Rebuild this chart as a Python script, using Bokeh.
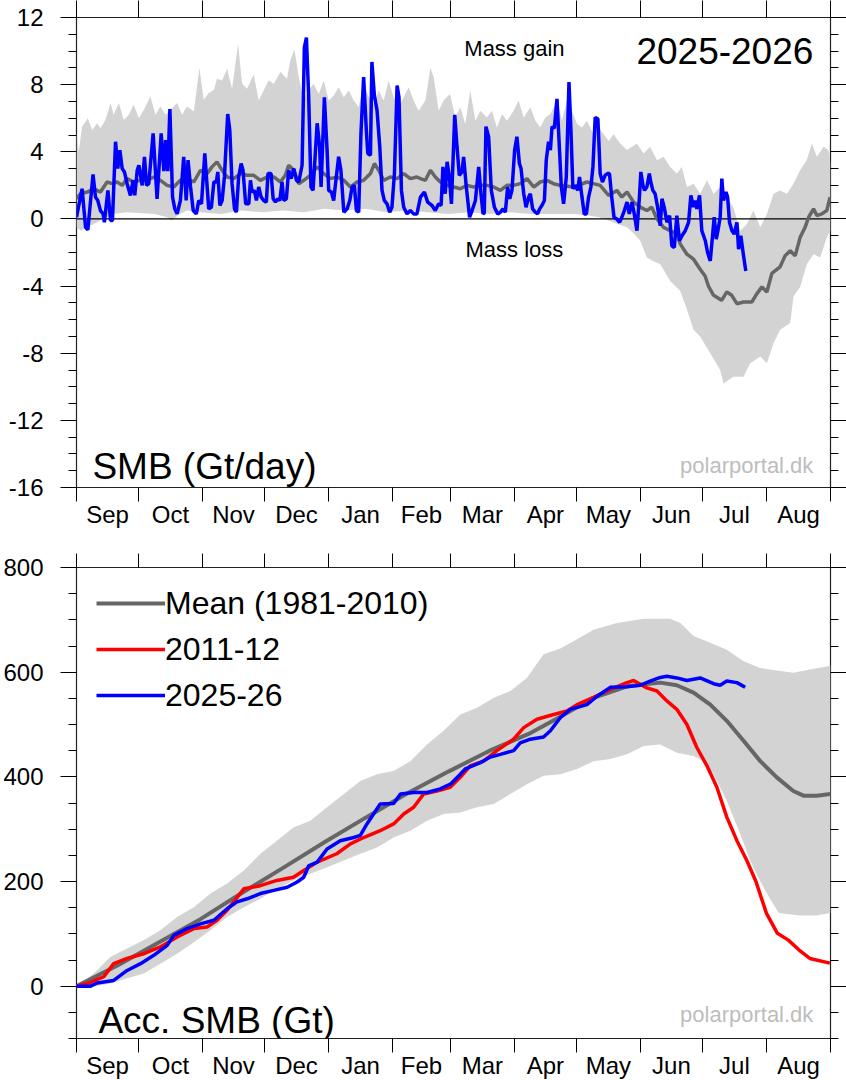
from bokeh.plotting import figure
from bokeh.models import Range1d, FixedTicker, LinearAxis, Span, Label, Legend, LegendItem
from bokeh.layouts import column
from bokeh.embed import file_html
from bokeh.resources import INLINE

FONT = "Liberation Sans"

# ---------------- categories ----------------
MONTHS = ["Sep", "Oct", "Nov", "Dec", "Jan", "Feb", "Mar", "Apr", "May", "Jun", "Jul", "Aug"]
MONTH_START = [0, 30, 61, 91, 122, 153, 181, 212, 242, 273, 303, 334, 365]

# ---------------- top panel: daily SMB (Gt/day) ----------------
band_up_day = [0, 1.1, 2.7, 5.5, 7.6, 10, 11.6, 14, 16.5, 18, 20.5, 22.9, 25.3, 27.7, 30.2, 32.6, 35.8, 38.2, 40.6, 43.1,
               45.5, 48.7, 51.1, 53.5, 56.8, 59.5, 61.6, 64, 66.5, 68, 70.5, 72.9, 75.3, 78.2, 80.2, 82.6, 85.8, 88.2, 90.6, 93,
               95.5, 98.7, 101.9, 103.5, 105.5, 107.6, 110, 112.4, 114.8, 117.3, 119.7, 122.1, 124.5, 126.9, 129.4, 131.8, 134.2, 136.6, 139, 141.5,
               143.9, 146.3, 148.7, 151.1, 153.5, 156, 158.4, 160.8, 163.2, 165.6,
               168.9, 171.3, 172.9, 175.3, 177.7, 180.8, 183.4, 185.8, 188.2, 190.6, 193.1, 195.5, 198.7, 201.1, 203.5, 206, 208.4, 211.6, 214, 216.5,
               219.7, 222.1, 224.5, 227, 229.4, 232.6, 235, 237.4, 239.8, 242.3, 244.7, 247.1, 250.3, 252.7, 255.2, 257.6, 260,
               263.2, 266.5, 271.3, 274.5, 277.7, 281, 284.2, 287.4, 290.6, 293, 295.5, 298.7, 301.9, 305.2, 308.4, 311.6, 314.8, 318, 321.3, 324.5,
               327.7, 331, 334.2, 337.4, 340.6, 343.9, 347.1, 350.3, 353.5, 356, 358.4, 361.6, 364, 365]
band_up_val = [5.2, 4.0, 5.5, 6.0, 5.3, 5.7, 5.4, 5.9, 6.9, 6.2, 6.9, 5.9, 6.2, 6.8, 6.0, 6.5, 7.3, 6.2, 6.7, 6.2,
               6.5, 6.9, 6.2, 6.7, 6.4, 9.0, 7.1, 7.5, 7.7, 8.35, 8.25, 8.95, 7.75, 10.4, 8.05, 7.75, 8.6, 7.05, 7.65, 8.25,
               8.05, 8.75, 8.35, 9.45, 10.1, 8.45, 7.05, 7.65, 8.05, 7.45, 8.25, 7.05, 7.35, 7.85, 7.25, 7.65, 7.05, 6.65, 8.05, 7.25,
               6.85, 7.65, 7.05, 8.25, 7.25, 6.65, 7.25, 7.85, 7.05, 6.45,
               7.05, 9.0, 8.45, 6.45, 7.05, 7.45, 6.05, 6.65, 5.65, 7.65, 5.85, 6.45, 6.05, 6.45, 5.45, 6.25, 5.85, 6.45, 7.05, 6.05,
               6.65, 5.85, 5.45, 6.05, 6.25, 7.05, 5.85, 7.05, 6.45, 5.65, 5.45, 5.85, 5.05, 5.45, 5.05, 4.65, 5.05,
               4.5, 4.1, 4.5, 3.9, 4.3, 3.5, 3.7, 3.1, 2.7, 3.1, 1.9, 2.1, 1.5, 2.3, 1.5, 1.9, 1.3, 0.7, -0.7, -0.3,
               0.5, -0.5, 0.3, 1.5, 1.7, 1.5, 2.1, 2.9, 3.5, 4.5, 3.7, 4.3, 4.1, 3.3]

band_lo_day = [0, 2, 5.2, 8.4, 11.6, 14.8, 18, 24, 30, 38, 43.9, 46, 50, 53.5, 60, 70, 80, 90, 100, 110,
               120, 130, 140, 150, 160, 170, 180, 190, 200, 210, 220, 230, 241, 248, 253, 257.6, 262, 266.5, 270, 272.9,
               276.1, 279, 282.6, 287.4, 292.3, 295.5, 298.7, 301.9, 306.8, 311.6, 313.2, 318, 322.9, 326.1, 331, 334.2, 337.4, 340.6, 345.5, 347.1,
               350.3, 353.5, 356.8, 360, 363.2, 365]
band_lo_val = [-0.5, -0.7, -0.5, -0.3, -0.1, 0.1, 0.3, 0.4, 0.35, 0.3, 0.1, -0.1, 0.3, 0.5, 0.4, 0.3, 0.5, 0.4, 0.5, 0.4,
               0.6, 0.5, 0.6, 0.4, 0.5, 0.4, 0.3, 0.4, 0.3, 0.4, 0.3, 0.3, 0.3, 0.2, 0.1, -0.1, -0.3, -0.5, -0.9, -1.3,
               -2.3, -2.5, -2.7, -3.7, -4.3, -5.4, -6.6, -7.0, -8.0, -9.0, -9.8, -9.4, -9.4, -8.6, -8.2, -8.6, -7.4, -6.6, -6.2, -4.6,
               -4.05, -2.7, -2.1, -2.3, -1.1, -0.7]

mean_day = [0, 1.9, 5.2, 8.4, 11.6, 14.8, 17.3, 19.7, 22.1, 24.5, 27.7, 31, 34.2, 37.4, 40.6, 43.9, 47.1, 50.3, 53.5, 56.8,
            60, 63.2, 65.6, 68, 70.5, 72.9, 76.1, 79.4, 82.6, 85.8, 89, 92.3, 95.5, 98.7, 101.1, 102.7, 105.2, 107.6, 110, 113.2,
            116.5, 119.7, 122.9, 126.1, 129.4, 132.6, 135.8, 139, 142.3, 144.2, 146.3, 148.7, 151.9, 155.2, 158.4, 161.6, 164.8,
            166.5, 168.9, 171.3, 173.7, 176.1, 179.4, 182.6, 185.8, 189, 192.3, 195.5, 198.7, 201.9, 205.2, 208.4, 211.6, 214.8, 218.1, 221.3, 224.5,
            227.7, 230.9,
            234.2, 240.6, 247.1, 253.5, 257.6, 261.6, 264, 266.5, 269.7, 272.9, 276.1, 278.5, 281, 284.2, 287.4, 290.6, 292.3, 295.5, 298.7, 301.9,
            304.3, 305.9, 308.4, 312.3, 314.8, 317.2, 319.7, 322.9, 326.9, 329.4, 331.8, 334.2, 336.6, 340.6, 343, 345.5, 347.9, 350.3, 352.7, 354.4,
            356.8, 358.4, 360.8, 363.2, 364.8]
mean_val = [1.2, 1.5, 1.6, 1.8, 1.6, 2.2, 2.1, 2.2, 2.0, 2.4, 2.2, 2.3, 2.3, 2.5, 2.3, 2.0, 1.9, 2.3, 2.4, 2.2,
            2.9, 2.7, 3.1, 3.4, 2.9, 2.5, 2.4, 2.7, 2.6, 2.6, 2.3, 2.5, 2.5, 2.2, 2.6, 3.2, 2.9, 2.1, 2.3, 2.6,
            3.1, 2.7, 2.4, 2.5, 2.3, 1.9, 2.2, 2.3, 2.7, 3.3, 2.9, 2.3, 2.5, 2.4, 2.7, 2.4, 2.5,
            2.4, 2.3, 2.9, 2.5, 2.2, 2.0, 1.9, 1.8, 2.0, 1.9, 2.0, 2.0, 1.9, 1.7, 2.0, 2.0, 2.1, 2.4, 1.9, 2.2,
            2.3, 2.1,
            2.0, 1.9, 2.2, 2.0, 1.4, 1.7, 1.3, 1.6, 1.0, 0.7, 0.5, 0.7, 0.0, -0.5, -0.7, -0.9, -1.5, -2.1, -2.4, -3.0,
            -3.4, -4.0, -4.55, -4.85, -4.35, -4.55, -5.05, -4.95, -4.95, -4.45, -4.05, -4.35, -3.25, -2.85, -2.2, -1.9, -2.2, -1.1, -0.5, 0.1,
            0.6, 0.2, 0.3, 0.5, 1.3]

cur_day = [0, 2.7, 4.4, 5.5, 8, 9.2, 10.3, 11.6, 12.9, 13.5, 15.2, 16.5, 17.4, 18.9, 20, 21, 22.1, 23.2, 24.5, 26.1,
           27.4, 28.2, 29.4, 30.2, 31.8, 32.9, 33.9, 35, 37.1, 39, 41, 42.3, 43.2, 44.2, 45.2, 46.5, 47.6, 48.7, 50.3, 51.9,
           53.1, 54, 55.2, 56.5, 58, 59.2, 60.5, 62.1, 64, 65.3, 66.5, 67.7, 68.4, 69.4, 70.5, 71.6, 73.2, 74.2, 75.3, 76.5,
           77.4, 78.5, 79.7, 80.6, 81.9, 83.4, 84.2, 85, 86.1, 87.1, 88.2, 89.4, 90.6, 91.9, 92.7, 94.2, 95.2, 96.3, 97.4, 98.4,
           99.5, 100.3, 101.6, 102.7, 103.9, 105.2, 106.5, 107.6, 109.2, 110.3, 111.3, 112.4, 113.5, 114.5, 116.5, 117.7, 118.4, 120, 121.3, 122.1,
           123.4, 124.5, 125.3, 126.9, 128, 129.4, 131, 132.3, 133.4, 134.5, 135.5, 136.6, 137.7, 139, 140.3, 141, 142.3, 143, 144.2, 145.5,
           146.8, 147.9, 149, 150.3, 151.6, 152.7, 153.9, 155.2, 156.1, 157.3, 158.4, 160, 161.6, 163.2, 164.8, 166.5,
           168.4, 170, 172.1, 173.7, 175.3, 176.5, 177.4, 178.5, 179.4, 180.5, 181.5, 183.1, 184.2, 185.3, 186.6, 187.4, 188.7, 190.3, 191.5, 193.1,
           194.7, 195.8, 196.8, 197.4, 198.2, 199.5, 200.8, 202.3, 203.9, 205.2, 206.5, 207.6, 208.7, 209.7, 210.8, 212.1, 213.2, 214.4, 215.2, 216.5,
           217.6, 218.9, 219.7, 220.8, 222.1, 223.2, 224.2, 225.3, 226.5, 227.4, 228.5, 229.4, 230.2, 231.3, 232.6, 233.9, 234.7, 235.8, 237.1, 238.4,
           239.4, 240.3, 241.5, 242.6, 243.5, 244.7, 245.8, 246.8, 247.9, 249, 250, 251.1, 252.4, 253.5, 254.6, 255.9, 257, 258, 259.1, 260.2,
           261.5, 262.9, 264, 265.2, 266.5, 267.6, 268.9, 270, 271.3, 272.5, 273.2, 274.2, 275, 276.1, 277.3, 278, 279, 280.1, 281.3, 282.6,
           283.4, 284.5, 285.8, 287.1, 288.2, 289.4, 290.6, 291.9, 293.1, 294.7, 296.3, 297.4, 298.7, 299.5, 300.3, 301.6, 302.7, 304.4, 305.5, 306.8,
           307.9, 308.7, 309.7, 310.5, 311.6, 312.4, 313.2, 314.4, 315.2, 316.1, 317.3, 318.4, 319.7, 320.5, 321.6, 322.9, 324]
cur_val = [0.1, 1.8, -0.5, -0.65, 2.65, 1.3, 1.1, 0.5, 0.3, -0.2, 1.7, -0.1, -0.1, 4.6, 3.0, 4.1, 3.0, 2.8, 2.1, 1.4,
           2.3, 1.4, 2.9, 3.2, 2.0, 3.7, 2.0, 2.1, 5.1, 1.2, 5.1, 2.85, 4.7, 2.85, 6.55, 1.3, 0.6, 0.3, 1.1, 3.7,
           1.1, 3.5, 1.9, 0.5, 0.3, 1.1, 0.9, 3.9, 0.6, 0.7, 2.2, 2.2, 2.8, 0.8, 1.1, 2.5, 6.25, 5.3, 2.1, 0.6,
           0.4, 2.5, 3.3, 2.9, 0.9, 0.9, 2.3, 1.6, 1.7, 1.1, 1.9, 1.3, 1.1, 1.0, 2.7, 2.7, 1.2, 1.0, 1.2, 1.1,
           2.2, 1.1, 1.2, 2.9, 2.4, 3.0, 2.3, 2.2, 3.2, 10.2, 10.8, 7.25, 1.9, 1.7, 5.7, 4.3, 1.9, 7.25, 4.1, 1.7,
           1.6, 1.1, 2.0, 3.7, 2.9, 0.4, 0.6, 1.1, 1.9, 2.0, 0.5, 0.4, 5.1, 8.45, 5.3, 3.9, 3.8, 9.35, 7.35, 6.45,
           4.3, 1.7, 1.1, 0.9, 0.4, 0.7, 2.7, 7.95, 7.25, 1.7, 0.7, 0.3, 0.5, 0.3, 0.3, 1.3,
           1.6, 1.0, 0.8, 0.5, 0.9, 0.8, 3.1, 1.5, 3.4, 2.5, 0.9, 6.2, 4.3, 2.6, 2.8, 3.7, 1.9, 0.1, 0.5, 1.1,
           3.1, 1.5, 0.3, 0.35, 5.5, 4.9, 1.7, 0.7, 0.3, 0.4, 0.6, 0.4, 1.9, 1.2, 1.7, 4.1, 4.9, 3.3, 3.0, 1.5,
           0.7, 1.3, 1.5, 0.6, 0.4, 0.3, 0.6, 0.8, 1.1, 3.5, 4.6, 4.1, 5.5, 5.4, 7.15, 3.9, 1.9, 0.9, 2.5, 8.15,
           5.1, 1.8, 2.0, 1.7, 2.5, 1.3, 0.3, 0.3, 1.3, 1.9, 3.1, 6.05, 5.95, 2.7, 2.2, 2.6, 2.7, 2.7, 1.3, 0.1,
           0.0, -0.2, 0.1, 0.5, 1.0, 0.3, 1.0, 0.3, -0.7, 1.3, 2.8, 2.0, 1.7, 1.9, 2.7, 2.2, 1.7, 1.5, 0.7, -0.4,
           1.2, 0.7, -0.2, 0.2, -1.6, -1.7, 0.2, -1.3, -1.0, -0.7, -0.2, 1.4, 0.7, 1.1, 0.6, 1.4, -0.7, -1.3, -2.0, -2.5,
           -1.0, 0.1, -1.2, -0.7, 0.1, 2.4, 1.1, 1.6, 1.3, -0.2, -0.7, -0.9, -0.2, -1.8, -1.0, -2.2, -3.1]

# ---------------- bottom panel: accumulated SMB (Gt) ----------------
acc_up_day = [0, 8.4, 16.5, 24.5, 32.6, 40.6, 48.7, 56.8, 64.8, 72.9, 81, 89, 97, 105, 113.2, 121.3, 129.4, 137.4, 145.5, 153.5,
              161.6, 169.7, 177.7, 185.8, 193.9, 202, 210, 218, 226.1, 234.2, 240.6, 250.3, 261.6, 274.5, 287.4, 292.3, 298.7, 306.8, 314.8, 322.9,
              331, 339, 347, 355, 363.2, 365]
acc_up_val = [0, 24, 56, 72, 88, 107, 132, 151, 177, 196, 221, 253, 278, 303, 316, 342, 367, 392, 405, 411,
              430, 462, 488, 519, 532, 551, 564, 589, 634, 645, 659, 681, 694, 702, 702, 694, 669, 656, 643, 621,
              608, 603, 599, 605, 611, 613]
acc_lo_day = [0, 8.4, 16.5, 24.5, 32.6, 40.6, 48.7, 56.8, 64.8, 72.9, 81, 89, 97, 105, 113.2, 121.3, 129.4, 137.4, 145.5, 153.5,
              161.6, 169.7, 177.7, 185.8, 193.9, 202, 210, 218, 226.1, 234.2, 242.3, 250.3, 258.4, 266.5, 274.5, 282.6, 290.6, 298.7, 303.5, 308.4,
              314.8, 321.3, 326.1, 331, 336, 340, 350, 358, 365]
acc_lo_val = [0, 0, 5, 15, 24, 43, 62, 84, 107, 132, 151, 167, 186, 202, 215, 227, 240, 253, 265, 284,
              297, 316, 329, 332, 342, 348, 367, 386, 402, 405, 415, 430, 434, 443, 459, 462, 446, 440, 430, 405,
              354, 291, 240, 200, 165, 140, 135, 135, 140]

acc_mean_day = [0, 20, 40, 60, 80, 100, 120, 140, 160, 180, 200, 220, 234.2, 250.3, 266.5, 282.6, 290.6, 298.7, 306.8, 314.8,
                322.9, 331, 339, 347, 351.9, 358.4, 364.8]
acc_mean_val = [0, 40, 84, 128, 178, 226, 275, 322, 368, 410, 450, 484, 515, 551, 573, 580, 575, 561, 538, 507,
                469, 430, 399, 373, 364, 364, 367]

acc_2011_day = [0, 5.2, 13.2, 18, 24.5, 32.6, 40.6, 48.7, 56.8, 63.2, 68, 72.9, 81, 89, 97, 105, 110, 116.5, 126, 132.6,
                139, 147, 153.5, 158.4, 163.2, 168, 174.5, 180.9, 185.8, 190.6, 197, 203.5, 211.6, 216.5, 222.9, 231, 237.4, 242.3, 250.3, 258.4,
                266.5, 269.7, 272.9, 276.1, 281, 285.8, 290.6, 295.5, 300.3, 305.2, 310, 314.8, 319.7, 324.5, 328.9, 334, 339.3, 344.6, 349.8, 355,
                364.7]
acc_2011_val = [0, 5, 18, 43, 53, 62, 75, 94, 110, 113, 126, 145, 186, 192, 202, 208, 221, 237, 253, 272,
                284, 297, 310, 329, 342, 367, 373, 380, 399, 421, 430, 450, 472, 494, 510, 519, 526, 538, 552, 567,
                580, 584, 577, 570, 564, 545, 529, 500, 456, 421, 380, 323, 278, 240, 200, 139, 101, 88, 69, 53,
                44]

acc_cur_day = [0, 6.8, 10, 18, 24.5, 31, 37.4, 43.9, 47.1, 53.5, 60, 66.5, 72.9, 77.7, 82.6, 89, 95.5, 102, 106.8, 110,
               112.4, 116.5, 121.3, 127.7, 134.2, 137.4, 140.6, 147, 153.5, 156.8, 163.2, 169.7, 176.1, 181, 185.8, 188.2, 195.5, 200.3, 205.2, 211.6,
               214.8, 219.7, 226.1, 229.4, 234.2, 239, 247.1, 252, 258.4, 266.5, 272.9, 277.7, 282.6, 285.8, 290.6, 295.5, 301.9, 308.4, 311.6, 314.8,
               319.7, 323.7]
acc_cur_val = [0, 0, 6, 11, 30, 43, 59, 78, 97, 110, 119, 126, 148, 161, 167, 177, 183, 189, 199, 208,
               230, 237, 262, 278, 284, 288, 310, 348, 349, 367, 370, 370, 377, 386, 405, 415, 427, 438, 443, 450,
               465, 472, 476, 488, 513, 529, 538, 554, 571, 572, 575, 583, 590, 592, 589, 584, 589, 578, 575, 583,
               580, 571]

TOP_Y_MAJOR = [-16, -12, -8, -4, 0, 4, 8, 12]
TOP_Y_MINOR = [v for v in range(-16, 13) if v % 4 != 0]
BOT_Y_MAJOR = [0, 200, 400, 600, 800]
BOT_Y_MINOR = [v for v in range(-100, 801, 50) if v % 200 != 0]

SERIES_NAMES = ["Mean (1981-2010)", "2011-12", "2025-26"]

GRAY_BAND = "#d3d3d3"
MEAN_COL = "#666666"

mids = [(MONTH_START[i] + MONTH_START[i + 1]) / 2 for i in range(12)]
month_labels = {m: name for m, name in zip(mids, MONTHS)}


def make_fig(frame_h, yr, majors, minors, b_top, b_bottom, top_tick):
    p = figure(frame_width=754, frame_height=frame_h,
               x_range=Range1d(0, 365), y_range=Range1d(*yr),
               output_backend="svg", toolbar_location=None,
               x_axis_location=None, y_axis_location=None,
               min_border_left=76, min_border_right=16,
               min_border_top=b_top, min_border_bottom=b_bottom)
    p.grid.visible = False
    p.outline_line_color = "#222222"
    p.outline_line_width = 1.2
    p.background_fill_color = "white"
    p.border_fill_color = "white"

    xb = LinearAxis(ticker=FixedTicker(ticks=mids, minor_ticks=MONTH_START),
                    major_label_overrides=month_labels,
                    major_tick_out=0, major_tick_in=0,
                    minor_tick_out=14, minor_tick_in=0,
                    minor_tick_line_color="black", axis_line_color=None,
                    major_label_standoff=-1,
                    major_label_text_font=FONT, major_label_text_font_size="24px",
                    major_label_text_color="black")
    p.add_layout(xb, "below")
    xa = LinearAxis(ticker=FixedTicker(ticks=[], minor_ticks=MONTH_START),
                    major_tick_out=0, major_tick_in=0,
                    minor_tick_out=top_tick, minor_tick_in=0,
                    minor_tick_line_color="black", axis_line_color=None,
                    major_label_standoff=0, major_label_text_font_size="0px",
                    major_label_text_color=None)
    p.add_layout(xa, "above")

    yt = FixedTicker(ticks=majors, minor_ticks=minors)
    yl = LinearAxis(ticker=yt, major_tick_out=16, major_tick_in=0,
                    minor_tick_out=8, minor_tick_in=0,
                    major_tick_line_color="black", minor_tick_line_color="black",
                    axis_line_color=None, major_label_standoff=17,
                    major_label_overrides={v: str(v) for v in majors},
                    major_label_text_font=FONT, major_label_text_font_size="24px",
                    major_label_text_color="black")
    p.add_layout(yl, "left")
    yr_ax = LinearAxis(ticker=yt, major_tick_out=16, major_tick_in=0,
                       minor_tick_out=8, minor_tick_in=0,
                       major_tick_line_color="black", minor_tick_line_color="black",
                       axis_line_color=None, major_label_standoff=0,
                       major_label_text_font_size="0px", major_label_text_color=None)
    p.add_layout(yr_ax, "right")
    return p


# ---------------- top figure ----------------
p1 = make_fig(470, (-16, 12), TOP_Y_MAJOR, TOP_Y_MINOR, 17, 50, 17)
band1 = p1.patch(band_up_day + band_lo_day[::-1], band_up_val + band_lo_val[::-1],
                 fill_color=GRAY_BAND, line_color=None)
band1.level = "image"
p1.add_layout(Span(location=0, dimension="width", line_color="black", line_width=1.2, level="underlay"))
p1.line(mean_day, mean_val, line_color=MEAN_COL, line_width=3.5)
p1.line(cur_day, cur_val, line_color="#0000ff", line_width=3.5)

p1.add_layout(Label(x=212, y=10.15, text="Mass gain", text_align="center", text_baseline="middle",
                    text_font=FONT, text_font_size="22px", text_color="black"))
p1.add_layout(Label(x=212, y=-1.85, text="Mass loss", text_align="center", text_baseline="middle",
                    text_font=FONT, text_font_size="22px", text_color="black"))
p1.add_layout(Label(x=356.7, y=10.0, text="2025-2026", text_align="right", text_baseline="middle",
                    text_font=FONT, text_font_size="37px", text_color="black"))
p1.add_layout(Label(x=7.7, y=-14.77, text="SMB (Gt/day)", text_align="left", text_baseline="alphabetic",
                    text_font=FONT, text_font_size="37px", text_color="black"))
p1.add_layout(Label(x=356.7, y=-14.7, text="polarportal.dk", text_align="right", text_baseline="alphabetic",
                    text_font=FONT, text_font_size="22px", text_color="#bdbdbd"))

# ---------------- bottom figure ----------------
p2 = make_fig(471, (-100, 800), BOT_Y_MAJOR, BOT_Y_MINOR, 30, 42, 14)
band2 = p2.patch(acc_up_day + acc_lo_day[::-1], acc_up_val + acc_lo_val[::-1],
                 fill_color=GRAY_BAND, line_color=None)
band2.level = "image"
r_mean = p2.line(acc_mean_day, acc_mean_val, line_color=MEAN_COL, line_width=4)
r_2011 = p2.line(acc_2011_day, acc_2011_val, line_color="#ff0000", line_width=3.5)
r_cur = p2.line(acc_cur_day, acc_cur_val, line_color="#0000ff", line_width=3.5)

legend = Legend(items=[LegendItem(label=SERIES_NAMES[0], renderers=[r_mean]),
                       LegendItem(label=SERIES_NAMES[1], renderers=[r_2011]),
                       LegendItem(label=SERIES_NAMES[2], renderers=[r_cur])],
                location=(20, 323), orientation="vertical",
                glyph_width=69, glyph_height=40, label_height=40, label_standoff=0,
                spacing=6, padding=0, margin=0,
                border_line_alpha=0, background_fill_alpha=0,
                label_text_font=FONT, label_text_font_size="32px", label_text_color="black")
p2.add_layout(legend)

p2.add_layout(Label(x=10.6, y=-66, text="Acc. SMB (Gt)", text_align="left", text_baseline="alphabetic",
                    text_font=FONT, text_font_size="37px", text_color="black"))
p2.add_layout(Label(x=356.7, y=-55, text="polarportal.dk", text_align="right", text_baseline="alphabetic",
                    text_font=FONT, text_font_size="22px", text_color="#bdbdbd"))

layout = column(p1, p2, spacing=0)
open("out.html", "w").write(file_html(layout, INLINE))
